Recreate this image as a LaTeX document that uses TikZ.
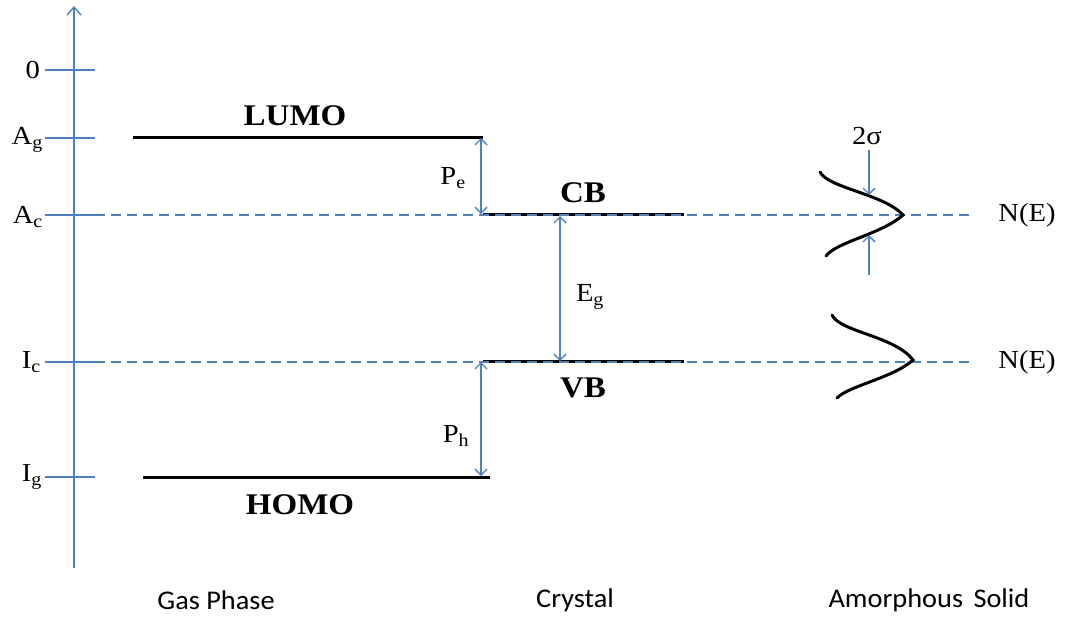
\documentclass[tikz,border=0pt]{standalone}
\usepackage{fontspec}
\setmainfont{Liberation Serif}[FakeStretch=1.1]
\newfontfamily\labelsans{Carlito}[FakeStretch=1.05]
\usetikzlibrary{arrows.meta}
\definecolor{axisblue}{RGB}{79,129,189}
\tikzset{
  axisline/.style={axisblue, line width=1.4pt},
  guide/.style={axisblue, line width=1.4pt, dash pattern=on 10pt off 6pt},
  level/.style={black, line width=3pt},
  gap/.style={axisblue, line width=1.4pt, {Straight Barb[length=6pt,width=12pt]}-{Straight Barb[length=6pt,width=12pt]}},
  onearrow/.style={axisblue, line width=1.4pt, -{Straight Barb[length=6pt,width=12pt]}},
  dos/.style={black, line width=3pt, line cap=round},
  ticklabel/.style={anchor=east, inner sep=0pt, font=\fontsize{26}{30}\selectfont},
  bandlabel/.style={inner sep=0pt, font=\fontsize{30}{34}\selectfont\bfseries},
  symlabel/.style={inner sep=0pt, font=\fontsize{26}{30}\selectfont},
  phaselabel/.style={inner sep=0pt, font=\fontsize{27}{30}\selectfont\labelsans},
}
\newcommand{\lowidx}[1]{\textsubscript{#1}}
\begin{document}
\begin{tikzpicture}[x=1pt, y=-1pt]
\useasboundingbox (0,0) rectangle (1068,622);

% energy axis
\coordinate (axbot) at (74,568);
\coordinate (axtop) at (74,6);
\draw[axisline, -{Straight Barb[length=8pt,width=14pt]}] (axbot) -- (axtop);

% tick marks
\foreach \nm/\yy in {zero/70, ag/138, ac/215, ic/362, ig/477} {
  \coordinate (t\nm l) at (45,\yy);
  \coordinate (t\nm r) at (95,\yy);
  \draw[axisline] (t\nm l) -- (t\nm r);
}

% tick labels
\node[ticklabel] (lzero) at (40,70) {0};
\node[ticklabel] (lag) at (43,140) {A\lowidx{g}};
\node[ticklabel] (lac) at (43,217) {A\lowidx{c}};
\node[ticklabel] (lic) at (41,362) {I\lowidx{c}};
\node[ticklabel] (lig) at (42,477) {I\lowidx{g}};

% gas-phase levels
\coordinate (lumoL) at (133,137);
\coordinate (lumoR) at (483,137);
\coordinate (homoL) at (143,477);
\coordinate (homoR) at (490,477);
\draw[level] (lumoL) -- (lumoR);
\draw[level] (homoL) -- (homoR);
\node[bandlabel] (lumo) at (295,116) {LUMO};
\node[bandlabel] (homo) at (300,505) {HOMO};

% crystal bands
\coordinate (cbL) at (483,214);
\coordinate (cbR) at (684,214);
\coordinate (vbL) at (483,361);
\coordinate (vbR) at (684,361);
\draw[level] (cbL) -- (cbR);
\draw[level] (vbL) -- (vbR);
\node[bandlabel] (cb) at (583,193) {CB};
\node[bandlabel] (vb) at (583,388) {VB};

% horizontal guides at A_c and I_c
\coordinate (gcE) at (975,215);
\coordinate (giE) at (975,362);
\draw[guide] (tacr) -- (gcE);
\draw[guide] (ticr) -- (giE);
\node[symlabel] (ne1) at (1027,215) {N(E)};
\node[symlabel] (ne2) at (1027,362) {N(E)};

% polarisation energies and gap
\coordinate (peT) at (481,138);
\coordinate (peB) at (481,214);
\coordinate (phT) at (481,362);
\coordinate (phB) at (481,476);
\coordinate (egT) at (560,216);
\coordinate (egB) at (560,361);
\draw[gap] (peT) -- (peB);
\draw[gap] (phT) -- (phB);
\draw[gap] (egT) -- (egB);
\node[symlabel] (pe) at (453,178) {P\lowidx{e}};
\node[symlabel] (ph) at (456,436) {P\lowidx{h}};
\node[symlabel] (eg) at (590,297) {E\lowidx{g}};

% density of states in the amorphous solid
\coordinate (d1top) at (820,172);
\coordinate (d1pk) at (903,215);
\coordinate (d1bot) at (826,256);
\draw[dos] (d1top) .. controls (828,188) and (884,194) .. (d1pk)
                   .. controls (882,234) and (836,242) .. (d1bot);
\coordinate (d2top) at (832,315);
\coordinate (d2pk) at (913,360);
\coordinate (d2bot) at (837,398);
\draw[dos] (d2top) .. controls (840,332) and (895,336) .. (d2pk)
                   .. controls (893,378) and (848,386) .. (d2bot);

% width markers
\coordinate (s1a) at (869,150);
\coordinate (s1b) at (869,195);
\coordinate (s2a) at (869,275);
\coordinate (s2b) at (869,235);
\draw[onearrow] (s1a) -- (s1b);
\draw[onearrow] (s2a) -- (s2b);
\node[symlabel] (sig) at (867,136) {2σ};

% phase captions
\node[phaselabel] (gas) at (216,600) {Gas Phase};
\node[phaselabel] (cry) at (575,600) {Crystal};
\node[phaselabel] (amo) at (929,600) {Amorphous\hspace{0.15em} Solid};
\end{tikzpicture}
\end{document}
